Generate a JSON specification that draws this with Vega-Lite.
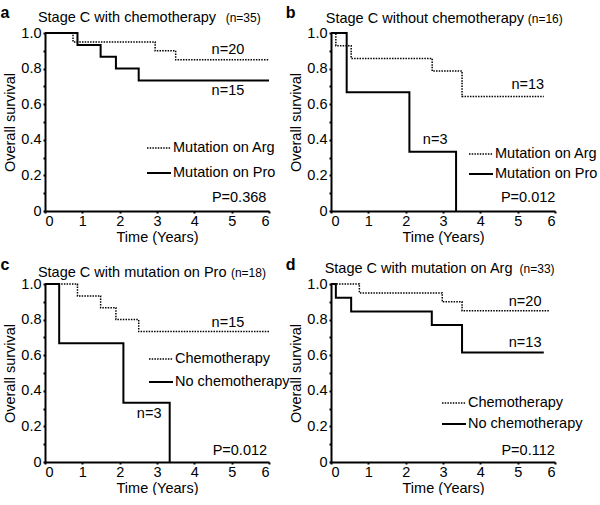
{
  "$schema": "https://vega.github.io/schema/vega-lite/v6.json",
  "padding": {"left": 0, "top": 5, "right": 0, "bottom": 0},
  "background": "white",
  "config": {
    "font": "Liberation Sans",
    "view": {"stroke": null},
    "axis": {"domainColor": "black", "domainWidth": 2, "tickColor": "black", "tickWidth": 2, "tickSize": 2, "labelFontSize": 14.5, "titleFontSize": 14.5, "titleFontWeight": "normal", "labelColor": "black", "titleColor": "black", "grid": false, "labelOverlap": false, "labelFont": "Liberation Sans", "titleFont": "Liberation Sans"},
    "axisX": {"labelPadding": 1, "titlePadding": 3},
    "axisY": {"labelPadding": 2, "titlePadding": 3},
    "legend": {"orient": "none", "symbolType": "stroke", "symbolSize": 576, "labelFontSize": 14.5, "labelFont": "Liberation Sans", "labelColor": "black", "labelOffset": 1, "padding": 0, "symbolStrokeColor": "black", "title": null},
    "text": {"font": "Liberation Sans", "fontSize": 14.5, "color": "black"}
  },
  "datasets": {
    "curves": [
      {"p": "a", "g": "Mutation on Arg", "t": 0, "s": 1},
      {"p": "a", "g": "Mutation on Arg", "t": 0.75, "s": 0.95},
      {"p": "a", "g": "Mutation on Arg", "t": 2.95, "s": 0.9},
      {"p": "a", "g": "Mutation on Arg", "t": 3.5, "s": 0.85},
      {"p": "a", "g": "Mutation on Arg", "t": 6, "s": 0.85},
      {"p": "a", "g": "Mutation on Pro", "t": 0, "s": 1},
      {"p": "a", "g": "Mutation on Pro", "t": 0.87, "s": 0.933},
      {"p": "a", "g": "Mutation on Pro", "t": 1.49, "s": 0.867},
      {"p": "a", "g": "Mutation on Pro", "t": 1.9, "s": 0.8},
      {"p": "a", "g": "Mutation on Pro", "t": 2.51, "s": 0.733},
      {"p": "a", "g": "Mutation on Pro", "t": 6, "s": 0.733},
      {"p": "b", "g": "Mutation on Arg", "t": 0, "s": 1},
      {"p": "b", "g": "Mutation on Arg", "t": 0.13, "s": 0.929},
      {"p": "b", "g": "Mutation on Arg", "t": 0.54, "s": 0.857},
      {"p": "b", "g": "Mutation on Arg", "t": 2.71, "s": 0.786},
      {"p": "b", "g": "Mutation on Arg", "t": 3.51, "s": 0.643},
      {"p": "b", "g": "Mutation on Arg", "t": 5.7, "s": 0.643},
      {"p": "b", "g": "Mutation on Pro", "t": 0, "s": 1},
      {"p": "b", "g": "Mutation on Pro", "t": 0.42, "s": 0.667},
      {"p": "b", "g": "Mutation on Pro", "t": 2.1, "s": 0.333},
      {"p": "b", "g": "Mutation on Pro", "t": 3.35, "s": 0},
      {"p": "c", "g": "Chemotherapy", "t": 0, "s": 1},
      {"p": "c", "g": "Chemotherapy", "t": 0.87, "s": 0.933},
      {"p": "c", "g": "Chemotherapy", "t": 1.49, "s": 0.867},
      {"p": "c", "g": "Chemotherapy", "t": 1.9, "s": 0.8},
      {"p": "c", "g": "Chemotherapy", "t": 2.51, "s": 0.733},
      {"p": "c", "g": "Chemotherapy", "t": 6, "s": 0.733},
      {"p": "c", "g": "No chemotherapy", "t": 0, "s": 1},
      {"p": "c", "g": "No chemotherapy", "t": 0.38, "s": 0.667},
      {"p": "c", "g": "No chemotherapy", "t": 2.1, "s": 0.333},
      {"p": "c", "g": "No chemotherapy", "t": 3.34, "s": 0},
      {"p": "d", "g": "Chemotherapy", "t": 0, "s": 1},
      {"p": "d", "g": "Chemotherapy", "t": 0.76, "s": 0.95},
      {"p": "d", "g": "Chemotherapy", "t": 2.98, "s": 0.9},
      {"p": "d", "g": "Chemotherapy", "t": 3.51, "s": 0.85},
      {"p": "d", "g": "Chemotherapy", "t": 5.86, "s": 0.85},
      {"p": "d", "g": "No chemotherapy", "t": 0, "s": 1},
      {"p": "d", "g": "No chemotherapy", "t": 0.13, "s": 0.923},
      {"p": "d", "g": "No chemotherapy", "t": 0.54, "s": 0.846},
      {"p": "d", "g": "No chemotherapy", "t": 2.7, "s": 0.769},
      {"p": "d", "g": "No chemotherapy", "t": 3.51, "s": 0.615},
      {"p": "d", "g": "No chemotherapy", "t": 5.7, "s": 0.615}
    ],
    "notes": [
      {"p": "a", "k": "letter", "label": "a", "t": -1.07, "s": 1.112},
      {"p": "a", "k": "title", "label": "Stage C with chemotherapy", "t": -0.19, "s": 1.084},
      {"p": "a", "k": "count", "label": "(n=35)", "t": 4.84, "s": 1.084},
      {"p": "a", "k": "note", "label": "n=20", "t": 4.9, "s": 0.905},
      {"p": "a", "k": "note", "label": "n=15", "t": 4.9, "s": 0.674},
      {"p": "a", "k": "note", "label": "P=0.368", "t": 5.2, "s": 0.073},
      {"p": "b", "k": "letter", "label": "b", "t": -1.08, "s": 1.112},
      {"p": "b", "k": "title", "label": "Stage C without chemotherapy", "t": -0.14, "s": 1.076},
      {"p": "b", "k": "count", "label": "(n=16)", "t": 5.27, "s": 1.077},
      {"p": "b", "k": "note", "label": "n=13", "t": 5.27, "s": 0.708},
      {"p": "b", "k": "note", "label": "n=3", "t": 2.79, "s": 0.4},
      {"p": "b", "k": "note", "label": "P=0.012", "t": 5.28, "s": 0.073},
      {"p": "c", "k": "letter", "label": "c", "t": -1.07, "s": 1.107},
      {"p": "c", "k": "title", "label": "Stage C with mutation on Pro", "t": -0.19, "s": 1.062},
      {"p": "c", "k": "count", "label": "(n=18)", "t": 4.98, "s": 1.062},
      {"p": "c", "k": "note", "label": "n=15", "t": 4.9, "s": 0.783},
      {"p": "c", "k": "note", "label": "n=3", "t": 2.79, "s": 0.27},
      {"p": "c", "k": "note", "label": "P=0.012", "t": 5.22, "s": 0.063},
      {"p": "d", "k": "letter", "label": "d", "t": -1.08, "s": 1.107},
      {"p": "d", "k": "title", "label": "Stage C with mutation on Arg", "t": -0.17, "s": 1.084},
      {"p": "d", "k": "count", "label": "(n=33)", "t": 5.05, "s": 1.084},
      {"p": "d", "k": "note", "label": "n=20", "t": 5.2, "s": 0.9},
      {"p": "d", "k": "note", "label": "n=13", "t": 5.2, "s": 0.67},
      {"p": "d", "k": "note", "label": "P=0.112", "t": 5.28, "s": 0.063}
    ]
  },
  "columns": 2,
  "bounds": "flush",
  "spacing": {"row": 73, "column": 62},
  "resolve": {"scale": {"strokeDash": "independent", "strokeWidth": "independent"}, "legend": {"strokeDash": "independent", "strokeWidth": "independent"}},
  "concat": [
    {
      "width": 224, "height": 178,
      "encoding": {
        "x": {"field": "t", "type": "quantitative", "scale": {"domain": [0, 6], "nice": false}, "axis": {"title": "Time (Years)", "titleFontWeight": "normal", "values": [0, 1, 2, 3, 4, 5, 6]}},
        "y": {"field": "s", "type": "quantitative", "scale": {"domain": [0, 1], "nice": false}, "axis": {"title": "Overall survival", "titleFontWeight": "normal", "values": [0, 0.1, 0.2, 0.3, 0.4, 0.5, 0.6, 0.7, 0.8, 0.9, 1], "labelExpr": "round(datum.value*10) % 2 == 1 ? '' : (datum.value == 0 ? '0' : format(datum.value, '.1f'))"}}
      },
      "layer": [
        {"data": {"name": "curves"}, "transform": [{"filter": "datum.p == 'a'"}],
         "mark": {"type": "line", "interpolate": "step-after", "color": "black"},
         "encoding": {
           "strokeDash": {"field": "g", "type": "nominal", "scale": {"domain": ["Mutation on Arg", "Mutation on Pro"], "range": [[1.5, 1.2], [1, 0]]}, "legend": {"legendX": 101, "legendY": 102, "rowPadding": 5}},
           "strokeWidth": {"field": "g", "type": "nominal", "scale": {"type": "ordinal", "domain": ["Mutation on Arg", "Mutation on Pro"], "range": [1.5, 2]}, "legend": {"legendX": 101, "legendY": 102, "rowPadding": 5}}
         }},
        {"data": {"name": "notes"}, "transform": [{"filter": "datum.p == 'a' && datum.k == 'note'"}], "mark": {"type": "text", "baseline": "middle"}, "encoding": {"text": {"field": "label"}}},
        {"data": {"name": "notes"}, "transform": [{"filter": "datum.p == 'a' && datum.k == 'title'"}], "mark": {"type": "text", "baseline": "middle", "align": "left"}, "encoding": {"text": {"field": "label"}}},
        {"data": {"name": "notes"}, "transform": [{"filter": "datum.p == 'a' && datum.k == 'letter'"}], "mark": {"type": "text", "baseline": "middle", "fontSize": 16, "fontWeight": "bold"}, "encoding": {"text": {"field": "label"}}},
        {"data": {"name": "notes"}, "transform": [{"filter": "datum.p == 'a' && datum.k == 'count'"}], "mark": {"type": "text", "baseline": "middle", "align": "left", "fontSize": 12}, "encoding": {"text": {"field": "label"}}}
      ]
    },
    {
      "width": 224, "height": 178,
      "encoding": {
        "x": {"field": "t", "type": "quantitative", "scale": {"domain": [0, 6], "nice": false}, "axis": {"title": "Time (Years)", "titleFontWeight": "normal", "values": [0, 1, 2, 3, 4, 5, 6]}},
        "y": {"field": "s", "type": "quantitative", "scale": {"domain": [0, 1], "nice": false}, "axis": {"title": "Overall survival", "titleFontWeight": "normal", "values": [0, 0.1, 0.2, 0.3, 0.4, 0.5, 0.6, 0.7, 0.8, 0.9, 1], "labelExpr": "round(datum.value*10) % 2 == 1 ? '' : (datum.value == 0 ? '0' : format(datum.value, '.1f'))"}}
      },
      "layer": [
        {"data": {"name": "curves"}, "transform": [{"filter": "datum.p == 'b'"}],
         "mark": {"type": "line", "interpolate": "step-after", "color": "black"},
         "encoding": {
           "strokeDash": {"field": "g", "type": "nominal", "scale": {"domain": ["Mutation on Arg", "Mutation on Pro"], "range": [[1.5, 1.2], [1, 0]]}, "legend": {"legendX": 137, "legendY": 108, "rowPadding": 0}},
           "strokeWidth": {"field": "g", "type": "nominal", "scale": {"type": "ordinal", "domain": ["Mutation on Arg", "Mutation on Pro"], "range": [1.5, 2]}, "legend": {"legendX": 137, "legendY": 108, "rowPadding": 0}}
         }},
        {"data": {"name": "notes"}, "transform": [{"filter": "datum.p == 'b' && datum.k == 'note'"}], "mark": {"type": "text", "baseline": "middle"}, "encoding": {"text": {"field": "label"}}},
        {"data": {"name": "notes"}, "transform": [{"filter": "datum.p == 'b' && datum.k == 'title'"}], "mark": {"type": "text", "baseline": "middle", "align": "left"}, "encoding": {"text": {"field": "label"}}},
        {"data": {"name": "notes"}, "transform": [{"filter": "datum.p == 'b' && datum.k == 'letter'"}], "mark": {"type": "text", "baseline": "middle", "fontSize": 16, "fontWeight": "bold"}, "encoding": {"text": {"field": "label"}}},
        {"data": {"name": "notes"}, "transform": [{"filter": "datum.p == 'b' && datum.k == 'count'"}], "mark": {"type": "text", "baseline": "middle", "align": "left", "fontSize": 12}, "encoding": {"text": {"field": "label"}}}
      ]
    },
    {
      "width": 224, "height": 178,
      "encoding": {
        "x": {"field": "t", "type": "quantitative", "scale": {"domain": [0, 6], "nice": false}, "axis": {"title": "Time (Years)", "titleFontWeight": "normal", "values": [0, 1, 2, 3, 4, 5, 6]}},
        "y": {"field": "s", "type": "quantitative", "scale": {"domain": [0, 1], "nice": false}, "axis": {"title": "Overall survival", "titleFontWeight": "normal", "values": [0, 0.1, 0.2, 0.3, 0.4, 0.5, 0.6, 0.7, 0.8, 0.9, 1], "labelExpr": "round(datum.value*10) % 2 == 1 ? '' : (datum.value == 0 ? '0' : format(datum.value, '.1f'))"}}
      },
      "layer": [
        {"data": {"name": "curves"}, "transform": [{"filter": "datum.p == 'c'"}],
         "mark": {"type": "line", "interpolate": "step-after", "color": "black"},
         "encoding": {
           "strokeDash": {"field": "g", "type": "nominal", "scale": {"domain": ["Chemotherapy", "No chemotherapy"], "range": [[1.5, 1.2], [1, 0]]}, "legend": {"legendX": 103, "legendY": 62, "rowPadding": 3}},
           "strokeWidth": {"field": "g", "type": "nominal", "scale": {"type": "ordinal", "domain": ["Chemotherapy", "No chemotherapy"], "range": [1.5, 2]}, "legend": {"legendX": 103, "legendY": 62, "rowPadding": 3}}
         }},
        {"data": {"name": "notes"}, "transform": [{"filter": "datum.p == 'c' && datum.k == 'note'"}], "mark": {"type": "text", "baseline": "middle"}, "encoding": {"text": {"field": "label"}}},
        {"data": {"name": "notes"}, "transform": [{"filter": "datum.p == 'c' && datum.k == 'title'"}], "mark": {"type": "text", "baseline": "middle", "align": "left"}, "encoding": {"text": {"field": "label"}}},
        {"data": {"name": "notes"}, "transform": [{"filter": "datum.p == 'c' && datum.k == 'letter'"}], "mark": {"type": "text", "baseline": "middle", "fontSize": 16, "fontWeight": "bold"}, "encoding": {"text": {"field": "label"}}},
        {"data": {"name": "notes"}, "transform": [{"filter": "datum.p == 'c' && datum.k == 'count'"}], "mark": {"type": "text", "baseline": "middle", "align": "left", "fontSize": 12}, "encoding": {"text": {"field": "label"}}}
      ]
    },
    {
      "width": 224, "height": 178,
      "encoding": {
        "x": {"field": "t", "type": "quantitative", "scale": {"domain": [0, 6], "nice": false}, "axis": {"title": "Time (Years)", "titleFontWeight": "normal", "values": [0, 1, 2, 3, 4, 5, 6]}},
        "y": {"field": "s", "type": "quantitative", "scale": {"domain": [0, 1], "nice": false}, "axis": {"title": "Overall survival", "titleFontWeight": "normal", "values": [0, 0.1, 0.2, 0.3, 0.4, 0.5, 0.6, 0.7, 0.8, 0.9, 1], "labelExpr": "round(datum.value*10) % 2 == 1 ? '' : (datum.value == 0 ? '0' : format(datum.value, '.1f'))"}}
      },
      "layer": [
        {"data": {"name": "curves"}, "transform": [{"filter": "datum.p == 'd'"}],
         "mark": {"type": "line", "interpolate": "step-after", "color": "black"},
         "encoding": {
           "strokeDash": {"field": "g", "type": "nominal", "scale": {"domain": ["Chemotherapy", "No chemotherapy"], "range": [[1.5, 1.2], [1, 0]]}, "legend": {"legendX": 110, "legendY": 106, "rowPadding": 1}},
           "strokeWidth": {"field": "g", "type": "nominal", "scale": {"type": "ordinal", "domain": ["Chemotherapy", "No chemotherapy"], "range": [1.5, 2]}, "legend": {"legendX": 110, "legendY": 106, "rowPadding": 1}}
         }},
        {"data": {"name": "notes"}, "transform": [{"filter": "datum.p == 'd' && datum.k == 'note'"}], "mark": {"type": "text", "baseline": "middle"}, "encoding": {"text": {"field": "label"}}},
        {"data": {"name": "notes"}, "transform": [{"filter": "datum.p == 'd' && datum.k == 'title'"}], "mark": {"type": "text", "baseline": "middle", "align": "left"}, "encoding": {"text": {"field": "label"}}},
        {"data": {"name": "notes"}, "transform": [{"filter": "datum.p == 'd' && datum.k == 'letter'"}], "mark": {"type": "text", "baseline": "middle", "fontSize": 16, "fontWeight": "bold"}, "encoding": {"text": {"field": "label"}}},
        {"data": {"name": "notes"}, "transform": [{"filter": "datum.p == 'd' && datum.k == 'count'"}], "mark": {"type": "text", "baseline": "middle", "align": "left", "fontSize": 12}, "encoding": {"text": {"field": "label"}}}
      ]
    }
  ]
}
